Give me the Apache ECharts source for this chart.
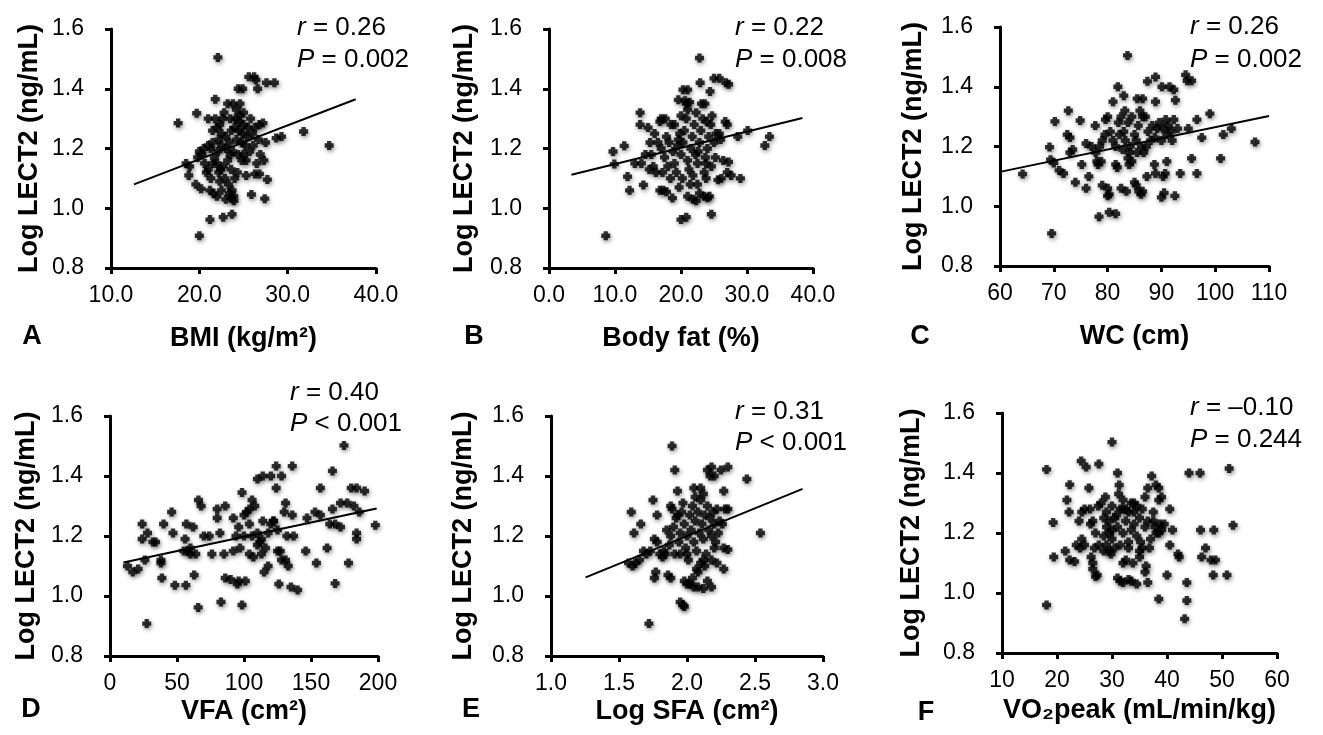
<!DOCTYPE html>
<html><head><meta charset="utf-8">
<script src="https://cdn.jsdelivr.net/npm/echarts@6/dist/echarts.min.js"></script>
<style>html,body{margin:0;padding:0;background:#fff}#c{width:1323px;height:735px}</style>
</head><body><div id="c"></div><script>
const FONT = '"Liberation Sans", Arial, Helvetica, sans-serif';
const yTitle = 'Log LECT2 (ng/mL)';
const panelLetters = ['A','B','C','D','E','F'];
const xTitles = ['BMI (kg/m²)','Body fat (%)','WC (cm)','VFA (cm²)','Log SFA (cm²)','VO₂peak (mL/min/kg)'];
const rValues = ['= 0.26','= 0.22','= 0.26','= 0.40','= 0.31','= –0.10'];
const pValues = ['= 0.002','= 0.008','= 0.002','< 0.001','< 0.001','= 0.244'];
const yTicks = [0.8, 1.6, 0.2];
const xTicks = [[10,40,10],[0,40,10],[60,110,10],[0,200,50],[1,3,0.5],[10,60,10]];
const xDecimals = [1,1,0,0,1,0];

const bmiPoints = [[22.1,1.505],[17.6,1.285],[19.7,1.318],[21.8,1.365],[25.6,1.44],[26.2,1.44],[26.4,1.43],[24.4,1.40],[24.9,1.40],[26.6,1.40],[27.6,1.42],[28.5,1.42],[31.8,1.257],[34.7,1.21],[28.7,1.235],[29.3,1.24],[27.2,1.285],[27.5,1.22],[27.3,1.16],[26.5,1.15],[26.3,1.115],[26.8,1.115],[27.7,1.096],[27.4,1.032],[25.9,1.046],[25.3,1.11],[25.3,1.16],[25.0,1.18],[23.7,0.98],[22.7,0.97],[21.2,0.962],[20.0,0.908],[18.5,1.15],[18.9,1.14],[18.8,1.11],[19.6,1.08],[20.2,1.065],[21.2,1.06],[21.6,1.05],[22.0,1.04],
[20.0,1.19],[20.3,1.18],[19.8,1.17],[20.5,1.20],[21.0,1.21],[21.3,1.20],[21.5,1.22],[21.0,1.30],[21.8,1.30],[22.3,1.28],[22.8,1.32],[23.2,1.35],[23.8,1.35],[24.2,1.33],[24.6,1.31],[23.5,1.30],[22.5,1.25],[23.0,1.24],[23.6,1.26],[24.0,1.27],[24.5,1.26],[25.0,1.28],[25.5,1.27],[26.0,1.25],[26.3,1.27],[22.0,1.15],[22.4,1.13],[22.7,1.14],[23.2,1.16],[23.6,1.13],[24.0,1.10],[24.3,1.12],[23.3,1.08],[23.7,1.06],[23.4,1.05],[23.9,1.04],[23.0,1.03],[22.5,1.06],[21.0,1.13],[21.3,1.10],[21.7,1.17],[22.1,1.19],[22.5,1.21],[23.0,1.20],[23.4,1.22],[24.2,1.23],[24.8,1.22],[25.2,1.21],[25.7,1.19],[20.6,1.15],[21.5,1.26],[22.2,1.23],[24.4,1.18],[24.8,1.16],[20.8,1.12],[22.9,1.10],[22.3,1.09],[23.8,1.19],[24.6,1.35],[25.0,1.32],[25.8,1.30],[26.8,1.28],[26.7,1.23],[26.9,1.18],[21.5,1.15],[23.5,1.18],[22.0,1.27],[22.6,1.30],[24.1,1.30],[24.9,1.25],[23.9,1.025],[23.6,1.035],[22.2,1.12],[24.5,1.29],[25.4,1.24],[26.1,1.21]];
const bmiFit = [[12.6,1.08],[37.7,1.365]];

const fatPoints = [[22.8,1.503],[8.6,0.908],[9.7,1.19],[9.9,1.148],[11.4,1.209],[11.9,1.106],[12.2,1.06],[13.8,1.32],[13.8,1.28],[13.0,1.15],[14.3,1.078],[15.0,1.27],[15.3,1.22],[17.0,1.30],[17.6,1.30],[16.8,1.06],[17.3,1.06],[17.8,1.055],[18.7,1.034],[19.7,1.07],[19.6,1.363],[20.3,1.397],[21.0,1.397],[22.9,1.42],[24.4,1.391],[25.0,1.435],[25.8,1.435],[26.8,1.42],[27.2,1.415],[23.1,1.35],[23.6,1.35],[20.8,1.35],[21.3,1.355],[20.0,0.962],[20.8,0.97],[24.6,0.98],[21.0,1.04],[21.8,1.03],[22.3,1.025],[22.8,1.05],[23.5,1.04],[24.0,1.035],[22.5,1.08],[26.7,1.29],[27.0,1.28],[26.4,1.16],[27.2,1.155],[25.6,1.095],[26.1,1.10],[27.6,1.11],[27.0,1.12],[29.0,1.10],[28.6,1.24],[30.1,1.26],[32.7,1.21],[33.4,1.24],[25.2,1.17],
[15.5,1.18],[15.8,1.14],[16.2,1.12],[16.0,1.25],[16.5,1.22],[17.0,1.20],[17.5,1.17],[17.8,1.24],[18.2,1.22],[18.5,1.28],[18.8,1.19],[19.0,1.15],[19.3,1.12],[19.5,1.21],[19.8,1.25],[20.0,1.18],[20.3,1.22],[20.5,1.26],[20.8,1.30],[21.0,1.16],[21.2,1.13],[21.5,1.20],[21.7,1.24],[22.0,1.28],[22.2,1.18],[22.5,1.15],[22.8,1.22],[23.0,1.26],[23.3,1.30],[23.5,1.12],[23.8,1.15],[24.0,1.20],[24.2,1.24],[24.5,1.28],[24.7,1.31],[25.0,1.22],[25.3,1.25],[20.2,1.10],[21.4,1.08],[19.0,1.28],[18.0,1.14],[16.8,1.29],[15.2,1.13],[14.6,1.18],[23.8,1.10],[24.6,1.14],[22.3,1.32],[21.0,1.33],[20.0,1.31],[18.4,1.10],[17.2,1.12],[26.0,1.23],[25.8,1.25],[21.8,1.11],[19.6,1.23],[23.7,1.17],[22.6,1.19],[14.0,1.15],[24.3,1.04],[20.6,1.36],[23.9,1.29]];
const fatFit = [[3.4,1.112],[38.4,1.302]];

const wcPoints = [[83.7,1.505],[69.6,0.909],[64.2,1.108],[69.2,1.198],[69.4,1.156],[70.2,1.284],[70.0,1.145],[71.0,1.12],[71.8,1.11],[72.7,1.32],[72.5,1.24],[73.0,1.23],[73.0,1.18],[73.5,1.19],[74.0,1.08],[74.9,1.287],[75.2,1.14],[76.0,1.21],[77.0,1.20],[76.0,1.06],[76.5,1.10],[77.7,1.27],[78.0,1.15],[78.2,1.14],[78.8,1.15],[78.4,0.965],[79.0,1.07],[79.5,1.24],[80.0,1.30],[79.6,1.29],[80.0,1.035],[80.3,1.04],[80.0,1.06],[80.3,0.98],[81.5,0.975],[81.0,1.35],[81.9,1.40],[81.8,1.13],[81.5,1.14],[82.5,1.06],[83.0,1.37],[83.5,1.05],[84.0,1.14],[84.5,1.15],[83.8,1.16],[85.0,1.08],[85.3,1.07],[85.5,1.36],[86.5,1.36],[85.8,1.05],[86.2,1.04],[86.5,1.05],[87.3,1.10],[87.4,1.418],[88.9,1.35],[88.9,1.433],[88.7,1.14],[88.9,1.11],[90.1,1.40],[90.0,1.03],[90.5,1.045],[90.3,1.10],[90.7,1.11],[91.0,1.15],[91.5,1.40],[92.3,1.39],[92.6,1.355],[92.5,1.035],[93.5,1.11],[94.5,1.44],[94.8,1.42],[95.6,1.42],[95.0,1.26],[95.6,1.16],[96.6,1.29],[96.6,1.11],[97.5,1.23],[99.0,1.31],[101.0,1.16],[101.5,1.24],[103.0,1.26],[107.4,1.215],
[80.5,1.25],[81.0,1.22],[81.5,1.20],[82.0,1.28],[82.5,1.30],[83.0,1.25],[83.3,1.22],[83.8,1.28],[84.2,1.20],[84.5,1.30],[85.0,1.24],[85.3,1.22],[85.7,1.27],[86.0,1.32],[86.3,1.20],[86.7,1.18],[87.0,1.30],[87.5,1.25],[88.0,1.22],[88.3,1.27],[88.8,1.23],[89.2,1.26],[89.6,1.28],[90.0,1.22],[90.3,1.26],[90.8,1.29],[91.3,1.27],[91.8,1.25],[92.3,1.29],[92.0,1.22],[83.2,1.32],[84.0,1.18],[79.0,1.22],[78.5,1.20],[77.8,1.18],[86.5,1.30],[87.2,1.20],[85.5,1.18],[82.2,1.24],[82.8,1.19],[93.0,1.26],[91.0,1.24]];
const wcFit = [[60,1.115],[110,1.302]];

const vfaPoints = [[174.6,1.502],[27.4,0.908],[166,1.417],[124,1.433],[136,1.433],[110,1.39],[114,1.40],[120,1.40],[128,1.40],[124,1.36],[157,1.36],[98.5,1.345],[180,1.36],[184,1.36],[190,1.35],[172,1.31],[177,1.31],[182,1.30],[186,1.28],[184,1.21],[184,1.19],[198,1.236],[178,1.11],[168,1.042],[162,1.16],[154,1.11],[146,1.15],[147,1.26],[153,1.28],[157,1.27],[164,1.24],[168,1.24],[172,1.23],[166,1.29],[140,1.02],[135,1.03],[126,1.04],[133,1.10],[131,1.12],[127,1.15],[136,1.27],[130,1.28],[131,1.31],[132,1.20],[137,1.20],[122,1.25],[125,1.22],[120,1.24],[118,1.10],[115,1.08],[113,1.14],[110,1.17],[113,1.19],[110,1.21],[98.5,0.97],[82.8,0.98],[65.8,0.962],[56.6,1.036],[48.4,1.036],[38.7,1.06],[62.8,1.07],[86,1.06],[90,1.055],[95,1.04],[96,1.05],[101,1.05],[13,1.10],[17,1.08],[21,1.09],[24,1.24],[24,1.19],[28,1.21],[32,1.18],[38,1.12],[38,1.11],[26,1.12],[40,1.24],[46,1.28],[47,1.21],[57,1.24],[62,1.23],[56,1.19],[58,1.15],[60,1.14],[64,1.14],[55,1.15],[66,1.32],[68,1.30],[70,1.20],[74,1.20],[76,1.14],[85,1.14],[80,1.29],[86,1.30],[80,1.26],[82,1.21],[92,1.26],[96,1.23],[97,1.16],[94,1.20],[100,1.20],[102,1.28],[104,1.29],[106,1.32],[108,1.30],[104,1.14],[107,1.13],[106,1.20],[112,1.18],[114,1.25],[118,1.21],[122,1.25],[125,1.15],[128,1.12],[100,1.27],[92,1.15],[60,1.16],[34,1.18],[116,1.16],[104,1.24]];
const vfaFit = [[10,1.112],[199,1.292]];

const sfaPoints = [[1.89,1.50],[1.91,1.42],[1.72,0.908],[1.59,1.28],[1.61,1.21],[1.66,1.24],[1.57,1.11],[1.60,1.10],[1.65,1.12],[1.68,1.15],[1.73,1.15],[1.75,1.32],[1.78,1.27],[1.76,1.19],[1.78,1.18],[1.76,1.06],[1.77,1.08],[1.80,1.14],[1.82,1.13],[1.83,1.15],[1.85,1.22],[1.86,1.07],[1.88,1.06],[1.89,1.29],[1.88,1.30],[1.93,1.35],[1.95,0.98],[1.97,0.97],[1.98,0.965],[1.98,1.05],[2.00,1.04],[2.02,1.04],[2.05,1.03],[2.08,1.03],[2.12,1.025],[2.18,1.03],[2.05,1.36],[2.10,1.36],[2.12,1.34],[2.15,1.42],[2.17,1.40],[2.20,1.40],[2.18,1.43],[2.25,1.42],[2.30,1.43],[2.27,1.35],[2.44,1.39],[2.54,1.21],[2.28,1.29],[2.30,1.29],[2.27,1.16],[2.30,1.155],[2.27,1.09],[2.20,1.16],[2.22,1.11],[2.18,1.12],[2.10,1.11],[2.12,1.12],[2.08,1.08],[2.07,1.09],[2.24,1.25],[2.26,1.24],
[1.88,1.20],[1.90,1.23],[1.92,1.26],[1.94,1.18],[1.95,1.21],[1.96,1.28],[1.97,1.31],[1.98,1.24],[2.00,1.20],[2.00,1.14],[2.02,1.27],[2.03,1.22],[2.04,1.30],[2.05,1.18],[2.06,1.25],[2.07,1.15],[2.08,1.28],[2.09,1.21],[2.10,1.32],[2.11,1.24],[2.12,1.19],[2.13,1.27],[2.14,1.14],[2.15,1.30],[2.16,1.22],[2.17,1.26],[2.18,1.20],[2.19,1.28],[2.20,1.24],[2.22,1.29],[1.91,1.14],[1.87,1.17],[1.99,1.16],[2.01,1.12],[2.13,1.10],[1.93,1.27],[2.06,1.33],[2.21,1.18],[2.23,1.21],[1.84,1.14],[1.95,1.14],[2.04,1.06],[2.15,1.05],[1.70,1.14],[1.62,1.11]];
const sfaFit = [[1.255,1.062],[2.85,1.357]];

const vo2Points = [[30.0,1.503],[18.1,1.412],[18.1,0.96],[19.3,1.235],[19.4,1.12],[22.3,1.361],[21.8,1.31],[22.2,1.27],[21.5,1.14],[22.3,1.11],[23.2,1.105],[24.4,1.44],[25.3,1.42],[27.6,1.43],[25.8,1.35],[24.0,1.24],[24.5,1.27],[25.0,1.28],[26.0,1.28],[24.5,1.18],[23.5,1.16],[24.2,1.15],[25.0,1.16],[26.1,1.23],[26.5,1.24],[26.2,1.12],[26.5,1.10],[26.5,1.08],[27.3,1.06],[27.0,1.055],[28.0,1.30],[28.8,1.32],[27.5,1.29],[28.5,1.25],[29.0,1.22],[29.5,1.20],[30.0,1.21],[27.6,1.16],[28.5,1.14],[29.5,1.14],[30.5,1.15],[31.0,1.40],[31.3,1.36],[31.2,1.33],[31.0,1.05],[31.5,1.04],[32.0,1.035],[33.0,1.045],[33.5,1.04],[34.5,1.03],[32.0,1.10],[32.5,1.11],[33.0,1.15],[34.0,1.27],[34.5,1.29],[33.5,1.30],[32.5,1.28],[32.0,1.31],[35.0,1.14],[35.5,1.15],[35.0,1.12],[36.0,1.07],[36.2,1.09],[36.5,1.035],[36.0,1.32],[36.5,1.35],[37.2,1.39],[38.0,1.36],[38.5,1.35],[38.5,1.31],[39.0,1.32],[38.0,1.20],[38.5,1.20],[39.0,1.21],[37.5,1.24],[38.7,1.23],[38.5,0.98],[39.5,1.23],[40.0,1.06],[40.5,1.28],[40.5,1.16],[41.0,1.21],[42.0,1.13],[42.2,1.12],[43.6,1.035],[43.6,0.975],[43.2,0.914],[44.0,1.40],[46.0,1.40],[46.1,1.21],[46.3,1.12],[47.0,1.15],[48.0,1.11],[48.8,1.11],[48.5,1.21],[48.4,1.06],[50.9,1.06],[51.3,1.415],[52.0,1.226],
[29,1.27],[29.5,1.24],[30,1.18],[30.5,1.25],[31,1.22],[31.5,1.28],[32,1.20],[32.5,1.24],[33,1.27],[33.5,1.21],[34,1.23],[34.5,1.19],[35,1.25],[35.5,1.28],[36,1.22],[36.5,1.24],[37,1.18],[37.5,1.27],[33,1.17],[31.5,1.16],[30,1.29],[28.5,1.19],[29,1.16],[32,1.28],[34,1.30],[36.8,1.15],[37.8,1.22],[27,1.20],[26.8,1.15],[29.8,1.13],[35.2,1.17],[33.8,1.10],[30.8,1.26]];

const panelData = [bmiPoints, fatPoints, wcPoints, vfaPoints, sfaPoints, vo2Points];
const panelFits = [bmiFit, fatFit, wcFit, vfaFit, sfaFit, null];

// layout (pixels)
const grids = [
  {left:111, top:29, width:265, height:239},
  {left:549, top:29, width:264, height:239},
  {left:1000, top:27, width:269, height:239},
  {left:110, top:416, width:268, height:240},
  {left:551, top:416, width:272, height:240},
  {left:1002, top:413, width:275, height:240}
];
const yNameGap = [68, 71, 73, 70, 74, 77];
const xNameGap = [57, 57, 57, 42, 42, 44];
const letterPos = [[32,337],[474,337],[920,337],[31,710],[471,710],[926,713]];
const annPos = [[297,28,60],[735,28,60],[1190,27,60],[290,393,424],[735,412,443],[1190,408,440]];

const axisLine = {show:true, lineStyle:{color:'#000', width:3}};
const axisTick = {show:true, inside:false, length:6, lineStyle:{color:'#000', width:3}};
const markerPath = 'path://M2.6,0H7.4V2.6H10V7.4H7.4V10H2.6V7.4H0V2.6H2.6Z';

const option = {
  animation:false,
  backgroundColor:'#fff',
  grid: grids.map(g => Object.assign({containLabel:false}, g)),
  xAxis: xTicks.map((t,i) => ({
    type:'value', gridIndex:i, min:t[0], max:t[1], interval:t[2],
    axisLine, axisTick, splitLine:{show:false},
    axisLabel:{color:'#000', fontSize:23, fontFamily:FONT, margin:16,
      formatter: v => v.toFixed(xDecimals[i])},
    name:xTitles[i], nameLocation:'middle', nameGap:xNameGap[i],
    nameTextStyle:{color:'#000', fontSize:27, fontWeight:'bold', fontFamily:FONT}
  })),
  yAxis: grids.map((g,i) => ({
    type:'value', gridIndex:i, min:yTicks[0], max:yTicks[1], interval:yTicks[2],
    axisLine, axisTick, splitLine:{show:false},
    axisLabel:{color:'#000', fontSize:23, fontFamily:FONT, margin:27,
      formatter: v => v.toFixed(1)},
    name:yTitle, nameLocation:'middle', nameGap:yNameGap[i], nameRotate:90,
    nameTextStyle:{color:'#000', fontSize:27, fontWeight:'bold', fontFamily:FONT}
  })),
  series: [],
  graphic: []
};

panelData.forEach((pts,i) => {
  option.series.push({
    type:'scatter', xAxisIndex:i, yAxisIndex:i, data:pts,
    symbol:markerPath, symbolSize:9,
    itemStyle:{color:'#000', shadowBlur:4, shadowColor:'rgba(0,0,0,0.5)', shadowOffsetX:1, shadowOffsetY:2}
  });
  if (panelFits[i]) {
    option.series.push({
      type:'line', xAxisIndex:i, yAxisIndex:i, data:panelFits[i],
      symbol:'none', lineStyle:{color:'#000', width:2}, z:3
    });
  }
});

panelLetters.forEach((L,i) => {
  option.graphic.push({type:'text', x:letterPos[i][0], y:letterPos[i][1],
    style:{text:L, fill:'#000', font:'bold 27px ' + FONT, align:'center', verticalAlign:'middle'}});
  const a = annPos[i];
  const rich = {i:{fontStyle:'italic', fontSize:26, fontFamily:FONT, fill:'#000'}, n:{fontSize:26, fontFamily:FONT, fill:'#000'}};
  option.graphic.push({type:'text', x:a[0], y:a[1],
    style:{text:'{i|r}{n| ' + rValues[i] + '}', rich, fill:'#000', font:'26px ' + FONT, align:'left', verticalAlign:'middle'}});
  option.graphic.push({type:'text', x:a[0], y:a[2],
    style:{text:'{i|P}{n| ' + pValues[i] + '}', rich, fill:'#000', font:'26px ' + FONT, align:'left', verticalAlign:'middle'}});
});

const chart = echarts.init(document.getElementById('c'), null, {renderer:'canvas'});
chart.setOption(option);
</script></body></html>
